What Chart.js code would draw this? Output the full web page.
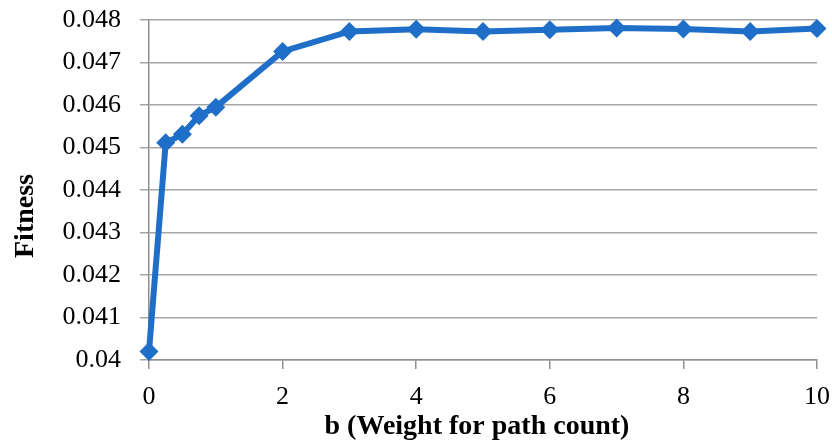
<!DOCTYPE html>
<html>
<head>
<meta charset="utf-8">
<script src="https://cdn.jsdelivr.net/npm/chart.js@4/dist/chart.umd.min.js"></script>
<style>
  html, body { margin: 0; padding: 0; background: #ffffff; }
  canvas { display: block; }
</style>
</head>
<body>
<canvas id="chart" width="832" height="442"></canvas>
<script>
// b values (weight for path count) and the fitness reached for each
const bValues = [0, 0.25, 0.5, 0.75, 1, 2, 3, 4, 5, 6, 7, 8, 9, 10];
const fitness = [0.0402, 0.04511, 0.04531, 0.04575, 0.04595, 0.04726, 0.04773,
                 0.04778, 0.04773, 0.04777, 0.04781, 0.04779, 0.04773, 0.0478];

// axis ticks
const xTickValues = [0, 2, 4, 6, 8, 10];
const yTickValues = [0.04, 0.041, 0.042, 0.043, 0.044, 0.045, 0.046, 0.047, 0.048];

// axis titles
const xTitle = 'b (Weight for path count)';
const yTitle = 'Fitness';

const LINE_BLUE = '#1f6fc9';
const GRID_GREY = '#a6a6a6';
const AXIS_GREY = '#8f8f8f';
const TICK_FONT = { family: "'Liberation Serif', 'Times New Roman', serif", size: 26, lineHeight: 1.2 };
const TITLE_FONT = "bold 28px 'Liberation Serif', 'Times New Roman', serif";

// axis titles drawn relative to the plot area
const axisTitles = {
  id: 'axisTitles',
  afterDraw(chart) {
    const { ctx, chartArea } = chart;
    ctx.save();
    ctx.fillStyle = '#000000';
    ctx.font = TITLE_FONT;
    ctx.textAlign = 'center';
    ctx.textBaseline = 'alphabetic';
    ctx.fillText(xTitle, (chartArea.left + chartArea.right) / 2 - 6, chart.height - 8);
    ctx.translate(33, (chartArea.top + chartArea.bottom) / 2 + 26);
    ctx.rotate(-Math.PI / 2);
    ctx.fillText(yTitle, 0, 0);
    ctx.restore();
  }
};

const fmt = v => String(Number(v.toFixed(3)));

new Chart(document.getElementById('chart'), {
  type: 'line',
  data: {
    datasets: [{
      data: bValues.map((b, i) => ({ x: b, y: fitness[i] })),
      borderColor: LINE_BLUE,
      backgroundColor: LINE_BLUE,
      borderWidth: 6,
      pointStyle: 'rectRot',
      pointRadius: 9.5,
      pointBorderWidth: 0,
      pointBackgroundColor: LINE_BLUE,
      tension: 0,
      clip: false
    }]
  },
  options: {
    responsive: false,
    animation: false,
    devicePixelRatio: 1,
    layout: { padding: { left: 0, top: 20, right: 15, bottom: 0 } },
    plugins: {
      legend: { display: false },
      tooltip: { enabled: false },
      title: { display: false }
    },
    scales: {
      x: {
        type: 'linear',
        min: 0,
        max: 10,
        afterBuildTicks: s => { s.ticks = xTickValues.map(v => ({ value: v })); },
        afterFit: s => {
          s.height = 82;
          s.paddingLeft = 0; s.paddingRight = 0;
        },
        ticks: {
          color: '#000000',
          font: TICK_FONT,
          padding: 13,
          maxRotation: 0,
          autoSkip: false,
          callback: v => fmt(v)
        },
        grid: {
          drawOnChartArea: false,
          drawTicks: true,
          tickLength: 9,
          tickColor: AXIS_GREY,
          lineWidth: 1.5
        },
        border: { display: true, color: AXIS_GREY, width: 1.5 },
        title: { display: false }
      },
      y: {
        type: 'linear',
        min: 0.04,
        max: 0.048,
        afterBuildTicks: s => { s.ticks = yTickValues.map(v => ({ value: v })); },
        afterFit: s => {
          s.width = 149;
          s.paddingTop = 0; s.paddingBottom = 0;
        },
        ticks: {
          color: '#000000',
          font: TICK_FONT,
          padding: 19,
          autoSkip: false,
          callback: v => fmt(v)
        },
        grid: {
          drawOnChartArea: true,
          drawTicks: true,
          tickLength: 9,
          color: GRID_GREY,
          tickColor: GRID_GREY,
          lineWidth: 1.5
        },
        border: { display: true, color: AXIS_GREY, width: 1.5 },
        title: { display: false }
      }
    }
  },
  plugins: [axisTitles]
});
</script>
</body>
</html>
